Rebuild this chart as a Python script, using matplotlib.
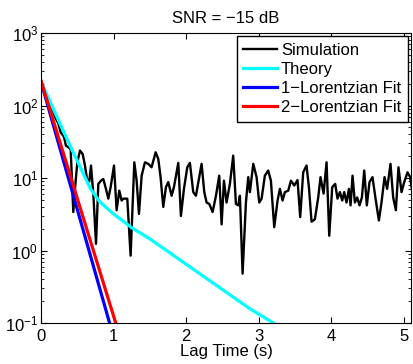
import numpy as np
import matplotlib
matplotlib.use('Agg')
import matplotlib.pyplot as plt

plt.rcParams['font.family'] = ['Liberation Sans', 'DejaVu Sans']
plt.rcParams['mathtext.default'] = 'regular'
plt.rcParams['font.size'] = 12

# simulated autocorrelation
sim_lag = [0.000, 0.069, 0.138, 0.207, 0.239, 0.271, 0.317, 0.344, 0.377, 0.409,
           0.445, 0.478, 0.501, 0.537, 0.574, 0.606, 0.638, 0.666, 0.689, 0.721,
           0.758, 0.790, 0.826, 0.859, 0.895, 0.928, 0.960, 1.006, 1.042, 1.079,
           1.111, 1.134, 1.189, 1.235, 1.286, 1.318, 1.350, 1.387, 1.433, 1.479,
           1.524, 1.580, 1.616, 1.648, 1.685, 1.722, 1.754, 1.800, 1.832, 1.892,
           1.928, 1.970, 2.016, 2.052, 2.098, 2.135, 2.181, 2.213, 2.250, 2.282,
           2.319, 2.365, 2.411, 2.456, 2.489, 2.521, 2.557, 2.603, 2.649, 2.686,
           2.718, 2.741, 2.778, 2.824, 2.856, 2.879, 2.925, 2.971, 3.007, 3.040,
           3.085, 3.131, 3.168, 3.214, 3.260, 3.292, 3.329, 3.361, 3.407, 3.444,
           3.490, 3.535, 3.572, 3.613, 3.659, 3.692, 3.728, 3.774, 3.820, 3.852,
           3.894, 3.935, 3.972, 4.013, 4.054, 4.086, 4.119, 4.151, 4.178, 4.210,
           4.243, 4.266, 4.293, 4.325, 4.357, 4.389, 4.422, 4.454, 4.490, 4.527,
           4.568, 4.610, 4.656, 4.692, 4.734, 4.770, 4.816, 4.853, 4.890, 4.926,
           4.968, 5.005, 5.051, 5.087, 5.129]
sim_val = [214, 145, 97, 65, 57, 43, 37, 28, 26.6, 25,
           3.4, 9.2, 16.5, 24, 21.5, 14.9, 9.2, 9.0, 14.9, 6.1,
           1.24, 8.3, 9.2, 9.7, 7.1, 5.2, 7.5, 14.9, 3.6, 6.7,
           4.9, 5.2, 5.2, 0.85, 16.5, 9.2, 3.2, 10.8, 16.5, 15.7,
           14.1, 22.7, 18.4, 10.3, 4.0, 7.5, 8.8, 5.7, 7.5, 16.2,
           3.0, 7.1, 14.1, 16.2, 6.4, 5.7, 10.3, 15.7, 6.4, 4.6,
           4.4, 3.4, 5.7, 10.8, 2.3, 9.2, 4.6, 8.3, 20.4, 4.4,
           4.2, 5.7, 0.48, 4.6, 10.3, 6.4, 15.7, 10.3, 4.6, 5.2,
           10.8, 12.7, 9.2, 2.1, 4.9, 7.1, 4.9, 6.4, 6.7, 9.2,
           7.9, 9.4, 2.9, 12.0, 14.9, 7.5, 2.5, 2.7, 5.4, 10.3,
           6.1, 16.5, 1.6, 7.5, 8.3, 5.2, 6.4, 4.9, 6.4, 4.6,
           7.1, 4.2, 10.8, 4.6, 5.4, 4.2, 5.4, 12.7, 4.2, 8.8,
           10.3, 5.2, 2.6, 4.6, 10.3, 7.1, 15.7, 5.4, 3.6, 14.1,
           6.4, 8.8, 12.0, 10.3, 5.2]

# theory curve
theory_lag = [0, 0.2, 0.4, 0.55, 0.68, 0.81, 1.0, 1.27, 1.5, 1.73, 2.88, 3.21]
theory_val = [214, 77, 28, 13.5, 7.2, 4.7, 3.2, 2.0, 1.45, 1.0, 0.157, 0.099]

# 1- and 2-Lorentzian fits (straight lines on the log axis)
fit1_lag = [0, 0.945]
fit1_val = [214, 0.1]
fit2_lag = [0, 1.03]
fit2_val = [220, 0.1]

fig = plt.figure(figsize=(4.14, 3.64), dpi=100)
ax = fig.add_axes([0.099, 0.1126, 0.894, 0.7964])

ax.semilogy(sim_lag, sim_val, color='black', lw=1.7, label='Simulation')
ax.semilogy(theory_lag, theory_val, color='cyan', lw=2.3, label='Theory')
ax.semilogy(fit1_lag, fit1_val, color='blue', lw=2.3, label='1\u2212Lorentzian Fit')
ax.semilogy(fit2_lag, fit2_val, color='red', lw=2.3, label='2\u2212Lorentzian Fit')

ax.set_xlim(0, 5.1)
ax.set_ylim(0.1, 1000)
ax.set_xticks([0, 1, 2, 3, 4, 5])
ax.tick_params(which='both', direction='in', top=True, right=True, labelsize=12)
ax.tick_params(which='major', length=4, pad=2)
ax.tick_params(which='minor', length=2)
ax.tick_params(axis='x', pad=4)
ax.set_xlabel('Lag Time (s)', labelpad=0)
ax.set_title('SNR = \u221215 dB', fontsize=12, pad=7)

leg = ax.legend(loc='upper right', fancybox=False, edgecolor='black', framealpha=1,
                handlelength=2.0, handletextpad=0.25, labelspacing=0.24,
                borderaxespad=0.2, borderpad=0.4)
leg.get_frame().set_linewidth(1.0)

fig.savefig('out.png', dpi=100)
